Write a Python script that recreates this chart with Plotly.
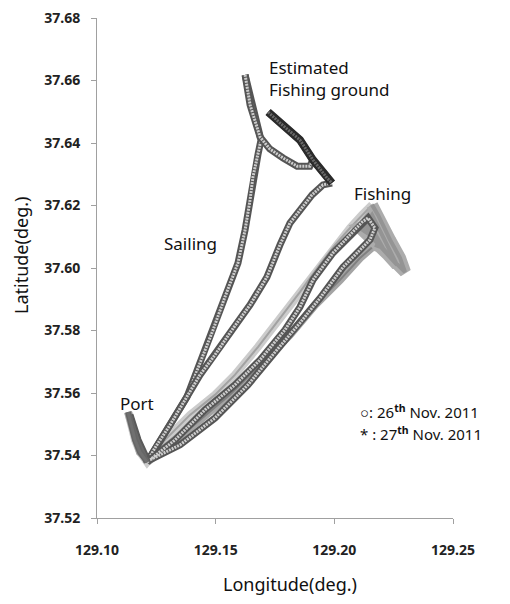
import plotly.graph_objects as go

# ---------------- data (lon, lat) ----------------
# 26 Nov 2011 (circles)
port26_lon = [129.1139, 129.1152, 129.1173, 129.1202, 129.1211]
port26_lat = [37.5530, 37.5498, 37.5450, 37.5402, 37.5379]

sail_out_lon = [129.1211, 129.1265, 129.1308, 129.1379, 129.1434, 129.1489, 129.1539, 129.1594,
                129.1624, 129.1645, 129.1657, 129.1678, 129.1691, 129.1666, 129.1640, 129.1624]
sail_out_lat = [37.5379, 37.5450, 37.5498, 37.5587, 37.5696, 37.5802, 37.5907, 37.6016,
                37.6122, 37.6218, 37.6291, 37.6362, 37.6410, 37.6490, 37.6554, 37.6618]

ground_lon = [129.1624, 129.1645, 129.1687, 129.1728, 129.1784, 129.1843, 129.1897, 129.1910,
              129.1855, 129.1771, 129.1721, 129.1771, 129.1855, 129.1910, 129.1969, 129.1990]
ground_lat = [37.6618, 37.6522, 37.6419, 37.6381, 37.6352, 37.6326, 37.6326, 37.6346,
              37.6410, 37.6464, 37.6499, 37.6464, 37.6410, 37.6346, 37.6288, 37.6272]

ground_dark_lon = [129.1721, 129.1771, 129.1855, 129.1910, 129.1969, 129.1990]
ground_dark_lat = [37.6499, 37.6464, 37.6410, 37.6346, 37.6288, 37.6272]

sail_back_lon = [129.1990, 129.1952, 129.1906, 129.1864, 129.1813, 129.1771, 129.1716, 129.1645,
                 129.1569, 129.1497, 129.1434, 129.1371, 129.1308, 129.1244, 129.1211]
sail_back_lat = [37.6272, 37.6266, 37.6234, 37.6192, 37.6144, 37.6074, 37.5971, 37.5882,
                 37.5802, 37.5722, 37.5658, 37.5578, 37.5498, 37.5424, 37.5379]

fish26_lon = [129.1211, 129.1329, 129.1455, 129.1581, 129.1687, 129.1792, 129.1855, 129.1910,
              129.1994, 129.2066, 129.2117, 129.2142, 129.2171, 129.2150, 129.2100, 129.2037,
              129.1940, 129.1855, 129.1758, 129.1636, 129.1497, 129.1350, 129.1223]
fish26_lat = [37.5379, 37.5450, 37.5546, 37.5626, 37.5706, 37.5802, 37.5875, 37.5962,
              37.6048, 37.6106, 37.6147, 37.6160, 37.6128, 37.6090, 37.6051, 37.6003,
              37.5904, 37.5824, 37.5738, 37.5626, 37.5520, 37.5434, 37.5386]

# 27 Nov 2011 (asterisks)
out27_lon = [129.1131, 129.1143, 129.1160, 129.1181, 129.1211, 129.1287, 129.1392, 129.1497,
             129.1581, 129.1678, 129.1771, 129.1855, 129.1931, 129.2003, 129.2066, 129.2117, 129.2159]
out27_lat = [37.5539, 37.5498, 37.5450, 37.5411, 37.5379, 37.5450, 37.5530, 37.5594,
             37.5658, 37.5747, 37.5840, 37.5923, 37.6003, 37.6074, 37.6128, 37.6170, 37.6202]

fish27_lon = [129.2159, 129.2184, 129.2235, 129.2277, 129.2298, 129.2256, 129.2192, 129.2129,
              129.2159, 129.2213, 129.2264, 129.2226, 129.2150, 129.2108, 129.2150, 129.2205, 129.2171]
fish27_lat = [37.6202, 37.6170, 37.6090, 37.6032, 37.5987, 37.6019, 37.6074, 37.6138,
              37.6170, 37.6090, 37.6010, 37.6042, 37.6106, 37.6128, 37.6138, 37.6064, 37.6074]

back27_lon = [129.2171, 129.2108, 129.2024, 129.1919, 129.1813, 129.1687, 129.1560, 129.1434,
              129.1308, 129.1223, 129.1181, 129.1143, 129.1131]
back27_lat = [37.6074, 37.6032, 37.5962, 37.5882, 37.5786, 37.5690, 37.5594, 37.5514,
              37.5434, 37.5386, 37.5411, 37.5498, 37.5539]

x_ticks = [129.10, 129.15, 129.20, 129.25]
x_tick_text = ["129.10", "129.15", "129.20", "129.25"]
y_ticks = [37.52, 37.54, 37.56, 37.58, 37.60, 37.62, 37.64, 37.66, 37.68]
y_tick_text = ["37.52", "37.54", "37.56", "37.58", "37.60", "37.62", "37.64", "37.66", "37.68"]

FONT = "Noto Sans"

fig = go.Figure()


def tube(lon, lat, outer, inner, w_out, w_in, dash="solid"):
    fig.add_trace(go.Scatter(x=lon, y=lat, mode="lines",
                             line=dict(color=outer, width=w_out), hoverinfo="skip"))
    fig.add_trace(go.Scatter(x=lon, y=lat, mode="lines",
                             line=dict(color=inner, width=w_in, dash=dash), hoverinfo="skip"))


# 27th (stars) - below
tube(out27_lon, out27_lat, "#cccccc", "#a2a2a2", 8, 2)
tube(back27_lon, back27_lat, "#a4a4a4", "#808080", 8, 2)
tube(fish27_lon, fish27_lat, "#acacac", "#949494", 12, 4)

# 26th (circles) - chain look
CIRC_OUT, CIRC_IN = "#555555", "#cdcdcd"
CHAIN = "2px,1px"
tube(sail_out_lon, sail_out_lat, CIRC_OUT, CIRC_IN, 7, 3, CHAIN)
tube(ground_lon, ground_lat, CIRC_OUT, CIRC_IN, 7, 3, CHAIN)
tube(sail_back_lon, sail_back_lat, CIRC_OUT, CIRC_IN, 7, 3, CHAIN)
tube(fish26_lon, fish26_lat, CIRC_OUT, CIRC_IN, 7, 3, CHAIN)
tube(ground_dark_lon, ground_dark_lat, "#2a2a2a", "#6a6a6a", 8, 3, CHAIN)
tube(port26_lon, port26_lat, "#5a5a5a", "#6a6a6a", 7, 3)
tube(out27_lon[:5], out27_lat[:5], "#666666", "#707070", 6, 3)

ann_font = dict(family=FONT, size=17, color="#111")
annotations = [
    dict(x=129.1716, y=37.6608, text="Estimated<br>Fishing ground", xanchor="left", yanchor="middle",
         align="left", showarrow=False, font=ann_font),
    dict(x=129.2074, y=37.6240, text="Fishing", xanchor="left", yanchor="middle",
         showarrow=False, font=ann_font),
    dict(x=129.1274, y=37.6080, text="Sailing", xanchor="left", yanchor="middle",
         showarrow=False, font=ann_font),
    dict(x=129.1088, y=37.5568, text="Port", xanchor="left", yanchor="middle",
         showarrow=False, font=ann_font),
    dict(x=129.2100, y=37.5542, text="○: 26<sup><b>th</b></sup> Nov. 2011", xanchor="left",
         yanchor="middle", showarrow=False, font=dict(family=FONT, size=15, color="#111")),
    dict(x=129.2100, y=37.5472, text="* : 27<sup><b>th</b></sup> Nov. 2011", xanchor="left",
         yanchor="middle", showarrow=False, font=dict(family=FONT, size=15, color="#111")),
    dict(x=0.542, y=-0.132, xref="paper", yref="paper", text="Longitude(deg.)", showarrow=False,
         xanchor="center", yanchor="middle", font=dict(family=FONT, size=18, color="#111")),
    dict(x=-0.2135, y=0.526, xref="paper", yref="paper", text="Latitude(deg.)", showarrow=False,
         textangle=-90, xanchor="center", yanchor="middle", font=dict(family=FONT, size=18, color="#111")),
]

axis_common = dict(showgrid=False, zeroline=False, showline=True, linecolor="#a0a0a0", linewidth=1,
                   ticks="outside", ticklen=5, tickcolor="#a0a0a0", automargin=False,
                   ticklabeloverflow="allow",
                   tickfont=dict(family=FONT, size=14, color="#222", weight="bold"))

fig.update_layout(
    width=502, height=596,
    margin=dict(l=89, r=57, t=10, b=86, autoexpand=False),
    paper_bgcolor="white", plot_bgcolor="white",
    showlegend=False,
    annotations=annotations,
    xaxis=dict(range=[129.10, 129.25], tickvals=x_ticks, ticktext=x_tick_text,
               ticklabelstandoff=14, **axis_common),
    yaxis=dict(range=[37.52, 37.68], tickvals=y_ticks, ticktext=y_tick_text,
               ticklabelstandoff=8, **axis_common),
)

fig.write_html("out.html")
